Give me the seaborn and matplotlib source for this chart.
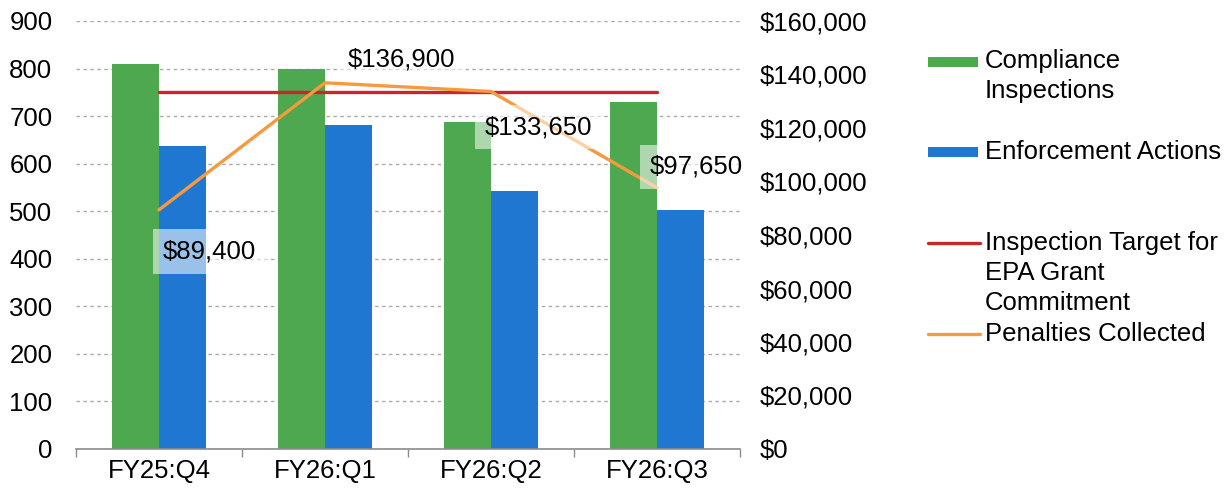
import numpy as np
import pandas as pd
import matplotlib
matplotlib.use('Agg')
import matplotlib.pyplot as plt
import seaborn as sns
from matplotlib.lines import Line2D
from matplotlib.patches import Rectangle
from matplotlib.ticker import FuncFormatter

# Data
quarters = ['FY25:Q4', 'FY26:Q1', 'FY26:Q2', 'FY26:Q3']
inspections = [810, 800, 688, 730]
enforcement = [637, 681, 542, 502]
target = [750, 750, 750, 750]
penalties = [89400, 136900, 133650, 97650]
penalty_labels = ['$89,400', '$136,900', '$133,650', '$97,650']

GREEN = '#4DA84F'
BLUE = '#1F77D2'
RED = '#C8262A'
ORANGE = '#F59A3E'
GRID = '#ABABAB'
AXIS = '#8C8C8C'
FS = 18.5

sns.set_theme(style='white')
plt.rcParams['font.family'] = ['Liberation Sans', 'DejaVu Sans']
plt.rcParams['font.size'] = FS

df = pd.DataFrame({
    'quarter': quarters * 2,
    'series': ['Compliance Inspections'] * len(quarters) + ['Enforcement Actions'] * len(quarters),
    'count': inspections + enforcement,
})
pos = np.arange(len(quarters))

W, H = 1231, 493
fig = plt.figure(figsize=(W / 100, H / 100), dpi=100)
ax = fig.add_axes([76 / W, 44 / H, 664 / W, 428 / H])

# Bars
sns.barplot(data=df, x='quarter', y='count', hue='series', palette=[GREEN, BLUE],
            width=0.57, saturation=1, linewidth=0, legend=False, ax=ax, zorder=2)

# Target line on the count axis
sns.lineplot(x=pos, y=target, color=RED, lw=2.4, ax=ax, zorder=3)

# Penalties on a second axis
ax2 = ax.twinx()
sns.lineplot(x=pos, y=penalties, color=ORANGE, lw=2.4, ax=ax2, zorder=3)

ax.set_xlim(-0.5, len(quarters) - 0.5)
ax.set_ylim(0, 900)
ax.set_yticks(range(0, 901, 100))
ax2.set_ylim(0, 160000)
ax2.set_yticks(range(0, 160001, 20000))
ax2.yaxis.set_major_formatter(FuncFormatter(lambda v, p: f'${v:,.0f}'))

ax.set_xticks(pos, quarters)
ax.set_xticks(np.arange(-0.5, len(quarters)), minor=True)
ax.set_axisbelow(True)
ax.yaxis.grid(True, color=GRID, linestyle=(0, (2.5, 2.5)), lw=1)
ax.xaxis.grid(False)

for a in (ax, ax2):
    a.set_xlabel('')
    a.set_ylabel('')
    for s in ('left', 'right', 'top'):
        a.spines[s].set_visible(False)
ax2.spines['bottom'].set_visible(False)
ax.spines['bottom'].set_color(AXIS)
ax.spines['bottom'].set_linewidth(1.2)

ax.tick_params(axis='y', length=0, pad=17, labelsize=FS, labelcolor='black')
ax2.tick_params(axis='y', length=0, pad=14, labelsize=FS, labelcolor='black')
ax.tick_params(axis='x', which='major', length=0, pad=7, labelsize=FS, labelcolor='black')
ax.tick_params(axis='x', which='minor', length=6, width=1, color=AXIS, direction='out', bottom=True)

# Data labels for penalties
offsets = [(3, -30), (16.5, 16.5), (-4.3, -25.6), (-5, 15)]
for i, (v, lab) in enumerate(zip(penalties, penalty_labels)):
    ax2.annotate(lab, xy=(pos[i], v), xytext=offsets[i], textcoords='offset points',
                 ha='left', va='center', fontsize=FS, color='black', zorder=5,
                 bbox=dict(boxstyle='square,pad=0.4', fc='white', ec='none', alpha=0.55))

# Legend drawn at the right, Excel-style
def fx(px):
    return px / W

def fy(py):
    return 1 - py / H

fig.add_artist(Rectangle((fx(928), fy(67)), 50 / W, 10 / H, transform=fig.transFigure,
                         facecolor=GREEN, edgecolor='none'))
fig.text(fx(985), fy(76), 'Compliance\nInspections', va='center', ha='left', fontsize=FS,
         linespacing=1.3, color='black')
fig.add_artist(Rectangle((fx(928), fy(157)), 50 / W, 10 / H, transform=fig.transFigure,
                         facecolor=BLUE, edgecolor='none'))
fig.text(fx(985), fy(152), 'Enforcement Actions', va='center', ha='left', fontsize=FS, color='black')
fig.add_artist(Line2D([fx(928), fx(980)], [fy(243), fy(243)], transform=fig.transFigure,
                      color=RED, lw=2.4))
fig.text(fx(985), fy(273), 'Inspection Target for\nEPA Grant\nCommitment', va='center', ha='left',
         fontsize=FS, linespacing=1.3, color='black')
fig.add_artist(Line2D([fx(928), fx(980)], [fy(334), fy(334)], transform=fig.transFigure,
                      color=ORANGE, lw=2.4))
fig.text(fx(985), fy(334), 'Penalties Collected', va='center', ha='left', fontsize=FS, color='black')

fig.savefig('out.png', dpi=100)
